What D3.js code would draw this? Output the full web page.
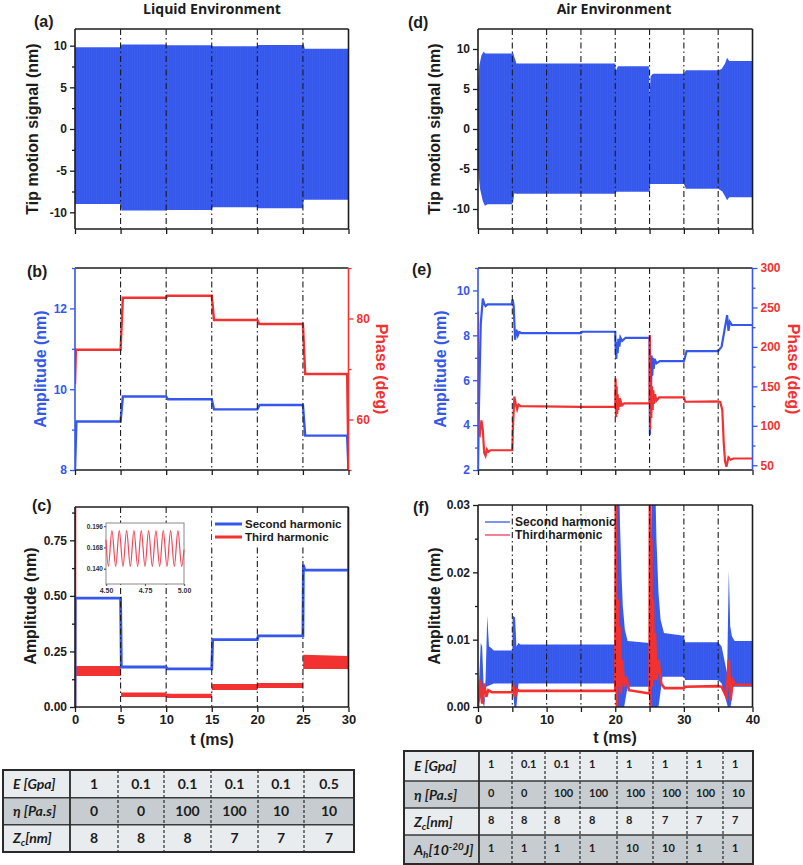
<!DOCTYPE html>
<html>
<head>
<meta charset="utf-8">
<script src="https://cdn.jsdelivr.net/npm/d3@7"></script>
<style>
  body { margin: 0; background: #fff; }
  svg { font-family: "Liberation Sans", Arial, sans-serif; font-weight: bold; }
</style>
</head>
<body>
<svg id="fig" width="803" height="865"></svg>
<script>
/* global d3 */

// ---- data ----
const liquidSteps = [5, 10, 15, 20, 25]
const airSteps = [5, 10, 15, 20, 25, 30, 35]

// (a) liquid tip motion, envelope of the oscillation [t, nm]
const aUpper = [[0, 9.8], [5, 9.8], [5.1, 10.15], [10, 10.15], [10.1, 10.04], [15, 10.04], [15.1, 9.92], [20, 9.92],
  [20.1, 10.08], [25, 10.08], [25.05, 10.35], [25.2, 9.64], [30, 9.64]]
const aLower = [[0, -9.0], [5, -9.0], [5.1, -9.78], [10, -9.78], [10.1, -9.72], [15, -9.72], [15.1, -9.4], [20, -9.4],
  [20.1, -9.5], [25, -9.5], [25.1, -8.5], [30, -8.5]]

// (b) liquid amplitude (nm) and phase (deg)
const bAmp = [[0, 8], [0.15, 9.2], [5, 9.2], [5.25, 9.82], [10, 9.82], [10.2, 9.75], [15, 9.75], [15.25, 9.5], [20, 9.5],
  [20.25, 9.61], [25, 9.61], [25.25, 8.85], [29.85, 8.85], [30, 8]]
const bPhase = [[0, 67], [0.1, 73.8], [5, 73.8], [5.25, 84.1], [10, 84.1], [10.1, 84.5], [15, 84.5], [15.25, 79.7], [20, 79.7],
  [20.2, 78.9], [25, 78.9], [25.25, 69], [29.85, 69], [30, 50]]

// (c) liquid harmonics
const cSecond = [[0, 0], [0.03, 0.49], [5, 0.49], [5.08, 0.18], [10, 0.18], [10.1, 0.172], [15, 0.172], [15.1, 0.303], [20, 0.303],
  [20.1, 0.32], [25, 0.32], [25.05, 0.64], [25.2, 0.616], [30, 0.616]]
const cThirdHi = [[0, 0.184], [5, 0.184], [5.05, 0.065], [10, 0.065], [10.05, 0.06], [15, 0.06], [15.05, 0.103], [20, 0.103],
  [20.05, 0.108], [25, 0.108], [25.05, 0.235], [30, 0.23]]
const cThirdLo = [[0, 0.14], [5, 0.14], [5.05, 0.045], [10, 0.045], [10.05, 0.04], [15, 0.04], [15.05, 0.077], [20, 0.077],
  [20.05, 0.085], [25, 0.085], [25.05, 0.171], [30, 0.171]]
const cThirdEdges = [[0, 0, 0.9], [30, 0.17, 0.9]]
// inset: third harmonic between 4.5 and 5 ms (peaks and troughs)
const insetT = [4.5, 4.515, 4.538, 4.562, 4.585, 4.609, 4.632, 4.656, 4.679, 4.703, 4.726, 4.75, 4.773, 4.797,
  4.82, 4.844, 4.867, 4.891, 4.914, 4.938, 4.961, 4.985, 5.0]
const insetV = [0.178, 0.143, 0.19, 0.143, 0.19, 0.143, 0.19, 0.143, 0.19, 0.143, 0.19, 0.143, 0.19, 0.143,
  0.19, 0.143, 0.19, 0.143, 0.19, 0.143, 0.19, 0.143, 0.165]

// (d) air tip motion envelope
const dUpper = [[0, 5.5], [0.2, 8], [0.5, 9.2], [0.8, 9.66], [1.1, 9.45], [4.9, 9.45], [5.1, 9.6], [5.3, 9.0], [5.6, 8.2],
  [20, 8.2], [20.1, 7.3], [20.4, 7.85], [24.9, 7.85], [25.0, 4.0], [25.15, 6.6], [25.5, 6.9], [30, 6.9], [30.3, 7.33],
  [35, 7.33], [35.5, 7.5], [36, 8.2], [36.3, 8.9], [36.6, 8.5], [40, 8.5]]
const dLower = [[0, -5], [0.3, -7.5], [0.7, -9.0], [1.0, -9.6], [1.4, -9.42], [4.9, -9.42], [5.1, -9.2], [5.3, -8.04],
  [5.6, -8.1], [20, -8.1], [20.2, -7.83], [25, -7.83], [25.1, -6.87], [30, -6.87], [30.3, -7.46], [35, -7.46],
  [35.6, -7.8], [36, -8.4], [36.3, -8.9], [36.6, -8.54], [40, -8.54]]

// (e) air amplitude (nm) and phase (deg)
const eAmp = [[0, 2], [0.15, 5], [0.4, 8.5], [0.7, 9.64], [0.9, 9.4], [1.1, 9.3], [1.4, 9.38], [4.9, 9.38], [5.05, 9.6],
  [5.2, 9.3], [5.4, 7.8], [5.6, 8.25], [5.8, 8.0], [6.0, 8.15], [6.3, 8.1], [15, 8.1], [15.2, 8.16], [20, 8.16],
  [20.05, 7.5], [20.15, 6.95], [20.25, 7.7], [20.35, 7.2], [20.45, 7.85], [20.6, 7.5], [20.75, 7.9], [21, 7.75],
  [21.5, 7.89], [25, 7.89], [25.05, 3.57], [25.12, 7.0], [25.2, 5.0], [25.3, 7.1], [25.4, 6.2], [25.5, 7.0],
  [25.6, 6.5], [25.75, 6.95], [26, 6.75], [26.5, 6.85], [30, 6.85], [30.15, 7.0], [30.4, 7.3], [35, 7.3],
  [35.5, 7.5], [35.9, 8.2], [36.3, 8.9], [36.5, 8.2], [36.7, 8.6], [37, 8.46], [40, 8.46]]
const ePhase = [[0, 245], [0.05, 90], [0.25, 88], [0.5, 107], [0.7, 95], [0.9, 66], [1.1, 62], [1.3, 70], [1.5, 67],
  [1.8, 69], [5, 69], [5.1, 100], [5.3, 137], [5.5, 128], [5.7, 121], [5.9, 127], [6.2, 125], [15, 124], [20, 124],
  [20.05, 160], [20.12, 111], [20.2, 150], [20.28, 115], [20.36, 140], [20.45, 120], [20.55, 135], [20.65, 124],
  [20.8, 131], [21, 126], [21.3, 128.4], [25, 128.4], [25.03, 215], [25.08, 95], [25.15, 160], [25.25, 110],
  [25.35, 150], [25.45, 120], [25.55, 145], [25.65, 128], [25.8, 140], [26, 132], [26.4, 136], [30, 136],
  [30.2, 130.5], [35, 131], [35.3, 130], [35.6, 120], [35.8, 80], [36.0, 55], [36.2, 48], [36.5, 60], [36.8, 57],
  [37.2, 58.6], [40, 58.6]]

// (f) air harmonics: second harmonic band, third harmonic line
const fBlueHi = [[0, 0], [0.4, 0.0095], [0.6, 0.009], [0.9, 0.001], [1.1, 0.004], [1.35, 0.0136], [1.6, 0.009],
  [1.9, 0.0088], [2.3, 0.0084], [5, 0.0084], [5.05, 0.0136], [5.4, 0.0133], [5.6, 0.009], [5.9, 0.0095],
  [6.2, 0.0093], [20, 0.0093], [20.25, 0.035], [20.55, 0.035], [20.7, 0.027], [20.9, 0.02], [21.1, 0.015],
  [21.4, 0.0115], [21.8, 0.0098], [25, 0.0095], [25.35, 0.035], [25.8, 0.035], [26.0, 0.025], [26.3, 0.017],
  [26.6, 0.013], [27.1, 0.011], [30, 0.0106], [30.2, 0.0096], [35, 0.0096], [35.5, 0.009], [36, 0.0065],
  [36.3, 0.005], [36.55, 0.0203], [36.75, 0.012], [37, 0.0105], [37.4, 0.0098], [40, 0.0098]]
const fBlueLo = [[0, 0], [0.4, 0.0015], [0.9, 0], [1.2, 0.003], [2.3, 0.0035], [5, 0.0035], [5.3, 0], [5.6, 0],
  [5.9, 0.0035], [20, 0.0035], [20.2, 0], [21.3, 0], [21.8, 0.003], [25, 0.003], [25.3, 0], [26.3, 0], [26.9, 0.0045],
  [30, 0.0045], [30.2, 0.004], [35, 0.004], [35.5, 0.0035], [36.4, 0], [36.8, 0], [37.2, 0.003], [40, 0.003]]
const fThird = [[0, 0], [0.3, 0.004], [0.6, 0.0005], [0.9, 0.0035], [1.2, 0.0015], [1.5, 0.0025], [2, 0.0022],
  [5, 0.0022], [5.1, 0.0035], [5.4, 0.0015], [5.7, 0.0026], [6, 0.0024], [20, 0.0024], [20.1, 0.035], [20.25, 0],
  [20.35, 0.016], [20.5, 0.003], [20.65, 0.012], [20.8, 0.002], [21, 0.007], [21.3, 0.003], [21.6, 0.0045],
  [22, 0.0025], [25, 0.002], [25.05, 0.035], [25.15, 0], [25.25, 0.025], [25.35, 0.003], [25.5, 0.016],
  [25.65, 0.004], [25.8, 0.011], [26, 0.004], [26.3, 0.007], [26.7, 0.0035], [27.2, 0.0028], [30, 0.0028],
  [30.2, 0.003], [35, 0.0031], [35.5, 0.003], [36.2, 0.0015], [36.55, 0.007], [36.8, 0.001], [37.1, 0.004],
  [37.5, 0.0033], [40, 0.0033]]

// tables
const tableLabels = ['E [Gpa]', 'η [Pa.s]', 'Z|c|[nm]', 'A|h|[10^-20^J]']
const liquidE = ['1', '0.1', '0.1', '0.1', '0.1', '0.5']
const liquidEta = ['0', '0', '100', '100', '10', '10']
const liquidZc = ['8', '8', '8', '7', '7', '7']
const airE = ['1', '0.1', '0.1', '1', '1', '1', '1', '1']
const airEta = ['0', '0', '100', '100', '100', '100', '100', '10']
const airZc = ['8', '8', '8', '8', '8', '7', '7', '7']
const airAh = ['1', '1', '1', '1', '10', '10', '1', '1']

// ---- drawing ----
const blue = '#3557ec', red = '#f23131', ink = '#1c1c1c'
const svg = d3.select('#fig')
const defs = svg.append('defs')

// faint vertical stripes of the dense oscillation
const pat = defs.append('pattern').attr('id', 'osc').attr('patternUnits', 'userSpaceOnUse')
  .attr('width', 2.4).attr('height', 10)
pat.append('rect').attr('width', 2.4).attr('height', 10).attr('fill', blue)
pat.append('rect').attr('width', 0.8).attr('height', 10).attr('fill', '#3d5fee')

const xL = d3.scaleLinear().domain([0, 30]).range([75, 348.5])
const xR = d3.scaleLinear().domain([0, 40]).range([478, 752.5])
const plain = d => String(d)

let clipCount = 0
let clipped = (x, y) => {
  const id = 'clip' + (clipCount++)
  defs.append('clipPath').attr('id', id).append('rect')
    .attr('x', x.range()[0]).attr('y', y.range()[1])
    .attr('width', x.range()[1] - x.range()[0]).attr('height', y.range()[0] - y.range()[1])
  return svg.append('g').attr('clip-path', `url(#${id})`)
}

let lineOf = (x, y) => d3.line().x(d => x(d[0])).y(d => y(d[1]))
let band = (x, y, hi, lo) => lineOf(x, y)(hi.concat(lo.slice().reverse())) + 'Z'

let dashes = (x, y, steps) => {
  svg.append('g').selectAll('line').data(steps).enter().append('line')
    .attr('x1', d => x(d)).attr('x2', d => x(d))
    .attr('y1', y.range()[1]).attr('y2', y.range()[0])
    .attr('stroke', ink).attr('stroke-width', 1.1)
    .attr('stroke-dasharray', '6,3,1.5,3')
}

let frame = (x, y, c) => {
  const [x0, x1] = x.range(), [y1, y0] = y.range()
  const g = svg.append('g').attr('stroke-width', 1.6).attr('fill', 'none')
  g.append('line').attr('x1', x0).attr('x2', x1).attr('y1', y0).attr('y2', y0).attr('stroke', c.top || ink)
  g.append('line').attr('x1', x0).attr('x2', x1).attr('y1', y1).attr('y2', y1).attr('stroke', ink)
  g.append('line').attr('x1', x0).attr('x2', x0).attr('y1', y0).attr('y2', y1).attr('stroke', c.left || ink)
  g.append('line').attr('x1', x1).attr('x2', x1).attr('y1', y0).attr('y2', y1).attr('stroke', c.right || ink)
}

let styleAxis = (a, tickColor, labelColor) => {
  a.select('.domain').remove()
  a.attr('font-size', 12).attr('font-family', null)
  a.selectAll('line').attr('stroke', tickColor).attr('stroke-width', 1.3)
  a.selectAll('text').attr('fill', labelColor)
}

let yTicks = (y, xPos, side, major, minor, fmt, tickColor, labelColor) => {
  const make = side === 'left' ? d3.axisLeft : d3.axisRight
  const a = svg.append('g').attr('transform', `translate(${xPos},0)`)
    .call(make(y).tickValues(major).tickSize(5).tickPadding(3).tickFormat(fmt))
  styleAxis(a, tickColor, labelColor)
  const m = svg.append('g').attr('transform', `translate(${xPos},0)`)
    .call(make(y).tickValues(minor).tickSize(3).tickFormat(''))
  styleAxis(m, tickColor, labelColor)
}

let xTicks = (x, yPos, values, labelled) => {
  const a = svg.append('g').attr('transform', `translate(0,${yPos})`)
    .call(d3.axisBottom(x).tickValues(values).tickSize(5).tickPadding(3)
      .tickFormat(d => labelled && labelled.includes(d) ? d : ''))
  styleAxis(a, ink, ink)
  a.attr('font-size', 13)
}

let text = (str, x, y, opt = {}) => {
  const t = svg.append('text').attr('x', x).attr('y', y).text(str)
    .attr('font-size', opt.size || 16).attr('fill', opt.color || ink)
    .attr('text-anchor', opt.anchor || 'start')
  if (opt.rotate) t.attr('transform', `rotate(${opt.rotate},${x},${y})`)
  if (opt.family) t.attr('font-family', opt.family)
  return t
}

// titles
text('Liquid Environment', 212, 14, { size: 14, anchor: 'middle', family: 'Open Sans' })
text('Air Environment', 614, 14, { size: 14, anchor: 'middle', family: 'Open Sans' })

// ===== (a) =====
const yA = d3.scaleLinear().domain([-12, 12]).range([229, 29])
clipped(xL, yA).append('path').attr('d', band(xL, yA, aUpper, aLower)).attr('fill', 'url(#osc)')
dashes(xL, yA, liquidSteps)
frame(xL, yA, {})
yTicks(yA, 75, 'left', [-10, -5, 0, 5, 10], [-7.5, -2.5, 2.5, 7.5], plain, ink, ink)
xTicks(xL, 229, [0, 5, 10, 15, 20, 25, 30], null)
text('(a)', 34, 27)
text('Tip motion signal (nm)', 38, 129, { size: 16, anchor: 'middle', rotate: -90 })

// ===== (b) =====
const yBA = d3.scaleLinear().domain([8, 13]).range([470, 268])
const yBP = d3.scaleLinear().domain([50, 90]).range([470, 268])
const gB = clipped(xL, yBA)
gB.append('path').attr('d', lineOf(xL, yBP)(bPhase)).attr('fill', 'none').attr('stroke', red).attr('stroke-width', 2.4)
gB.append('path').attr('d', lineOf(xL, yBA)(bAmp)).attr('fill', 'none').attr('stroke', blue).attr('stroke-width', 2.4)
dashes(xL, yBA, liquidSteps)
frame(xL, yBA, { left: blue, right: red })
yTicks(yBA, 75, 'left', [8, 10, 12], [9, 11, 13], plain, blue, blue)
yTicks(yBP, 348.5, 'right', [60, 80], [50, 70, 90], plain, red, red)
xTicks(xL, 470, [0, 5, 10, 15, 20, 25, 30], null)
text('(b)', 27, 277)
text('Amplitude (nm)', 46, 369, { size: 16, anchor: 'middle', rotate: -90, color: blue })
text('Phase (deg)', 376, 369, { size: 16, anchor: 'middle', rotate: 90, color: red })

// ===== (c) =====
const yC = d3.scaleLinear().domain([0, 0.9]).range([707, 507])
const gC = clipped(xL, yC)
gC.append('path').attr('d', band(xL, yC, cThirdHi, cThirdLo)).attr('fill', red)
gC.selectAll('line.edge').data(cThirdEdges).enter().append('line')
  .attr('x1', d => xL(d[0])).attr('x2', d => xL(d[0])).attr('y1', d => yC(d[1])).attr('y2', d => yC(d[2]))
  .attr('stroke', red).attr('stroke-width', 2.6)
gC.append('path').attr('d', lineOf(xL, yC)(cSecond)).attr('fill', 'none').attr('stroke', blue).attr('stroke-width', 2.8)
dashes(xL, yC, liquidSteps)
frame(xL, yC, {})
yTicks(yC, 75, 'left', [0, 0.25, 0.5, 0.75], [0.125, 0.375, 0.625, 0.875], d3.format('.2f'), ink, ink)
xTicks(xL, 707, [0, 5, 10, 15, 20, 25, 30], [0, 5, 10, 15, 20, 25, 30])
text('(c)', 32, 511)
text('Amplitude (nm)', 36, 606, { size: 16, anchor: 'middle', rotate: -90 })
text('t (ms)', 212, 745, { size: 16, anchor: 'middle' })

// legend (c)
const legC = svg.append('g')
legC.append('rect').attr('x', 212).attr('y', 515).attr('width', 128).attr('height', 30).attr('fill', '#fff')
legC.append('line').attr('x1', 215).attr('x2', 242).attr('y1', 524).attr('y2', 524).attr('stroke', blue).attr('stroke-width', 3)
legC.append('line').attr('x1', 215).attr('x2', 242).attr('y1', 537).attr('y2', 537).attr('stroke', red).attr('stroke-width', 3)
text('Second harmonic', 245, 528, { size: 11.5 })
text('Third harmonic', 245, 541, { size: 11.5 })

// inset (c)
const xI = d3.scaleLinear().domain([4.5, 5.0]).range([106, 184])
const yI = d3.scaleLinear().domain([0.12, 0.2]).range([584, 523])
svg.append('rect').attr('x', 106).attr('y', 523).attr('width', 78).attr('height', 61)
  .attr('fill', '#fff').attr('stroke', '#8a8a8a').attr('stroke-width', 1)
svg.append('path').attr('d', d3.line().curve(d3.curveMonotoneX).x((d, i) => xI(insetT[i])).y(d => yI(d))(insetV))
  .attr('fill', 'none').attr('stroke', '#f0485a').attr('stroke-width', 1.2)
const inY = svg.append('g').attr('transform', 'translate(106,0)')
  .call(d3.axisLeft(yI).tickValues([0.14, 0.168, 0.196]).tickSize(2).tickPadding(1).tickFormat(d3.format('.3f')))
styleAxis(inY, '#666', '#333')
inY.attr('font-size', 6.5)
const inX = svg.append('g').attr('transform', 'translate(0,584)')
  .call(d3.axisBottom(xI).tickValues([4.5, 4.75, 5.0]).tickSize(2).tickPadding(2).tickFormat(d3.format('.2f')))
styleAxis(inX, '#666', '#333')
inX.attr('font-size', 7)

// ===== (d) =====
const yD = d3.scaleLinear().domain([-12.5, 12.5]).range([229, 29])
clipped(xR, yD).append('path').attr('d', band(xR, yD, dUpper, dLower)).attr('fill', 'url(#osc)')
dashes(xR, yD, airSteps)
frame(xR, yD, {})
yTicks(yD, 478, 'left', [-10, -5, 0, 5, 10], [-7.5, -2.5, 2.5, 7.5], plain, ink, ink)
xTicks(xR, 229, [0, 5, 10, 15, 20, 25, 30, 35, 40], null)
text('(d)', 408, 28)
text('Tip motion signal (nm)', 440, 129, { size: 16, anchor: 'middle', rotate: -90 })

// ===== (e) =====
const yEA = d3.scaleLinear().domain([2, 11]).range([470, 268])
const yEP = d3.scaleLinear().domain([44, 300]).range([470, 268])
const gE = clipped(xR, yEA)
gE.append('path').attr('d', lineOf(xR, yEA)(eAmp)).attr('fill', 'none').attr('stroke', blue).attr('stroke-width', 2.2)
gE.append('path').attr('d', lineOf(xR, yEP)(ePhase)).attr('fill', 'none').attr('stroke', red).attr('stroke-width', 2.2)
dashes(xR, yEA, airSteps)
frame(xR, yEA, { left: blue, right: blue })
yTicks(yEA, 478, 'left', [2, 4, 6, 8, 10], [3, 5, 7, 9, 11], plain, blue, blue)
yTicks(yEP, 752.5, 'right', [50, 100, 150, 200, 250, 300], [75, 125, 175, 225, 275], plain, blue, red)
xTicks(xR, 470, [0, 5, 10, 15, 20, 25, 30, 35, 40], null)
text('(e)', 412, 275)
text('Amplitude (nm)', 446, 369, { size: 16, anchor: 'middle', rotate: -90, color: blue })
text('Phase (deg)', 788, 369, { size: 16, anchor: 'middle', rotate: 90, color: red })

// ===== (f) =====
const yF = d3.scaleLinear().domain([0, 0.03]).range([707, 505])
const gF = clipped(xR, yF)
gF.append('path').attr('d', band(xR, yF, fBlueHi, fBlueLo)).attr('fill', 'url(#osc)')
gF.append('path').attr('d', lineOf(xR, yF)(fThird)).attr('fill', 'none').attr('stroke', red).attr('stroke-width', 2.6)
dashes(xR, yF, airSteps)
frame(xR, yF, {})
yTicks(yF, 478, 'left', [0, 0.01, 0.02, 0.03], [0.005, 0.015, 0.025], d3.format('.2f'), ink, ink)
xTicks(xR, 707, [0, 5, 10, 15, 20, 25, 30, 35, 40], [0, 10, 20, 30, 40])
text('(f)', 413, 513)
text('Amplitude (nm)', 440, 606, { size: 16, anchor: 'middle', rotate: -90 })
text('t (ms)', 615, 743, { size: 16, anchor: 'middle' })

// legend (f)
const legF = svg.append('g')
legF.append('line').attr('x1', 485).attr('x2', 510).attr('y1', 522).attr('y2', 522).attr('stroke', '#5a78f0').attr('stroke-width', 1.6)
legF.append('line').attr('x1', 485).attr('x2', 510).attr('y1', 535).attr('y2', 535).attr('stroke', '#f5607a').attr('stroke-width', 1.6)
text('Second harmonic', 515, 526, { size: 12 })
text('Third harmonic', 515, 539, { size: 12 })

// ===== tables =====
let rowLabel = (label, x, y, size) => {
  const t = svg.append('text').attr('x', x).attr('y', y).attr('font-family', 'Lato')
    .attr('font-style', 'italic').attr('font-size', size).attr('fill', ink)
  // "|" wraps a subscript, "^" wraps a superscript
  const parts = label.split(/(\|[^|]*\||\^[^^]*\^)/).filter(s => s.length)
  let shift = 0
  parts.forEach(p => {
    let dy = -shift, fs = size, s = p
    if (p[0] === '|') { s = p.slice(1, -1); shift = 3; fs = size * 0.7 }
    else if (p[0] === '^') { s = p.slice(1, -1); shift = -5; fs = size * 0.7 }
    else shift = 0
    dy += shift
    t.append('tspan').attr('dy', dy).attr('font-size', fs).text(s)
  })
}

let table = (xs, ys, rows, opt) => {
  const g = svg.append('g')
  const fills = ['#e8ecee', '#c6cccf', '#e8ecee', '#c6cccf']
  rows.forEach((r, i) => {
    g.append('rect').attr('x', xs[0]).attr('y', ys[i]).attr('width', xs[xs.length - 1] - xs[0])
      .attr('height', ys[i + 1] - ys[i]).attr('fill', fills[i])
    rowLabel(tableLabels[i], xs[0] + 10, (ys[i] + ys[i + 1]) / 2 + 5, 14)
    r.forEach((v, j) => {
      const cx = opt.center ? (xs[j + 1] + xs[j + 2]) / 2 : xs[j + 1] + 9
      svg.append('text').attr('x', cx).attr('y', (ys[i] + ys[i + 1]) / 2 + opt.dy)
        .attr('text-anchor', opt.center ? 'middle' : 'start').attr('font-family', 'Lato')
        .attr('font-size', opt.size).attr('fill', ink).text(v)
    })
  })
  const x0 = xs[0], x1 = xs[xs.length - 1], y0 = ys[0], y1 = ys[ys.length - 1]
  ys.slice(1, -1).forEach(y => g.append('line').attr('x1', x0).attr('x2', x1).attr('y1', y).attr('y2', y)
    .attr('stroke', '#3a3a3a').attr('stroke-width', 1.5))
  xs.slice(1, -1).forEach((x, k) => {
    const solid = k === 0 || opt.solid.includes(k)
    g.append('line').attr('x1', x).attr('x2', x).attr('y1', y0).attr('y2', y1)
      .attr('stroke', '#2a2a2a').attr('stroke-width', solid ? 1.8 : 1.2)
      .attr('stroke-dasharray', solid ? null : '3,2')
  })
  g.append('rect').attr('x', x0).attr('y', y0).attr('width', x1 - x0).attr('height', y1 - y0)
    .attr('fill', 'none').attr('stroke', '#2a2a2a').attr('stroke-width', 2)
}

table([3, 70, 118, 164, 211, 258, 304, 354], [770, 797.7, 824.7, 852],
  [liquidE, liquidEta, liquidZc], { center: true, size: 14, dy: 5, solid: [] })
table([404, 479, 512, 545, 580, 617, 653, 687, 723, 753], [751, 781, 808, 835, 864],
  [airE, airEta, airZc, airAh], { center: false, size: 11, dy: 2, solid: [8] })
</script>
</body>
</html>
